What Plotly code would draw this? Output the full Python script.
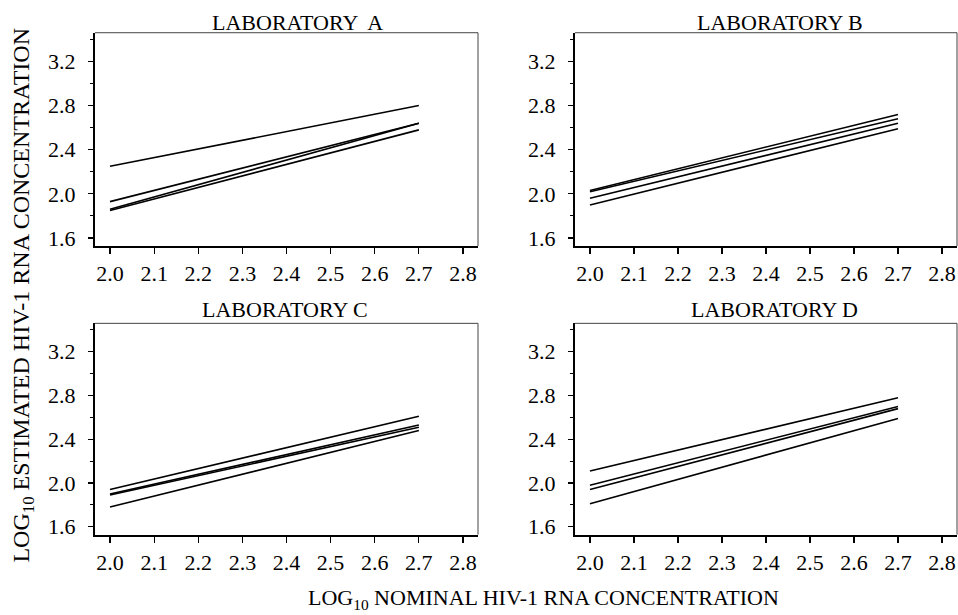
import plotly.graph_objects as go

# Nominal concentration endpoints (log10)
x_nominal = [2.0, 2.7]

# Estimated log10 concentration at x=2.0 and x=2.7 for each regression line
lab_a_start = [2.25, 1.93, 1.86, 1.85]
lab_a_end = [2.80, 2.64, 2.64, 2.58]
lab_b_start = [2.03, 2.02, 1.96, 1.90]
lab_b_end = [2.72, 2.68, 2.64, 2.59]
lab_c_start = [1.94, 1.90, 1.89, 1.78]
lab_c_end = [2.61, 2.53, 2.51, 2.48]
lab_d_start = [2.11, 1.98, 1.94, 1.81]
lab_d_end = [2.78, 2.70, 2.68, 2.59]

panel_titles = ["LABORATORY  A", "LABORATORY B", "LABORATORY C", "LABORATORY D"]
x_tick_vals = [2.0, 2.1, 2.2, 2.3, 2.4, 2.5, 2.6, 2.7, 2.8]
y_tick_vals = [1.6, 2.0, 2.4, 2.8, 3.2]
y_minor_vals = [1.8, 2.2, 2.6, 3.0, 3.4]

W, H = 958, 615
FONT = "Liberation Serif"


def px_x(p):
    return p / W


def px_y(p):
    return 1 - p / H


panels = [
    (lab_a_start, lab_a_end, (95, 478), (33, 248), 297, 37),
    (lab_b_start, lab_b_end, (575, 957), (33, 248), 780, 37),
    (lab_c_start, lab_c_end, (95, 478), (326, 539), 285, 327),
    (lab_d_start, lab_d_end, (575, 957), (326, 539), 774, 327),
]

fig = go.Figure()
shapes = []
annotations = []
layout_axes = {}

for i, (starts, ends, (px0, px1), (py0, py1), tx, ty) in enumerate(panels):
    n = i + 1
    xa = "x" if n == 1 else f"x{n}"
    ya = "y" if n == 1 else f"y{n}"
    for s, e in zip(starts, ends):
        fig.add_trace(go.Scatter(
            x=x_nominal, y=[s, e], mode="lines",
            line=dict(color="black", width=1.6),
            xaxis=xa, yaxis=ya, showlegend=False, hoverinfo="skip"))
    xkey = "xaxis" if n == 1 else f"xaxis{n}"
    ykey = "yaxis" if n == 1 else f"yaxis{n}"
    layout_axes[xkey] = dict(
        domain=[px_x(px0), min(px_x(px1), 1.0)], anchor=ya, range=[1.966, 2.834],
        tickvals=x_tick_vals, ticktext=[f"{v:.1f}" for v in x_tick_vals],
        ticks="outside", ticklen=6, tickwidth=1.2, tickcolor="black",
        showline=True, linecolor="black", linewidth=2,
        showgrid=False, zeroline=False,
        tickfont=dict(family=FONT, size=22, color="black"),
        ticklabelstandoff=1,
    )
    layout_axes[ykey] = dict(
        domain=[px_y(py1), px_y(py0)], anchor=xa, range=[1.528, 3.46],
        tickvals=y_tick_vals, ticktext=[f"{v:.1f}" for v in y_tick_vals],
        ticks="outside", ticklen=5, tickwidth=1.2, tickcolor="black",
        minor=dict(tickvals=y_minor_vals, ticks="outside",
                   ticklen=3, tickwidth=1, tickcolor="black"),
        showline=True, linecolor="black", linewidth=2,
        showgrid=False, zeroline=False,
        tickfont=dict(family=FONT, size=22, color="black"),
        ticklabelstandoff=8,
    )
    # thin top and right frame
    shapes.append(dict(type="line", xref=f"{xa} domain", yref=f"{ya} domain",
                       x0=0, x1=1, y0=1, y1=1, line=dict(color="#444", width=1)))
    shapes.append(dict(type="line", xref=f"{xa} domain", yref=f"{ya} domain",
                       x0=1, x1=1, y0=0, y1=1, line=dict(color="#444", width=1)))
    annotations.append(dict(
        text=panel_titles[i], xref="paper", yref="paper",
        x=px_x(tx), y=px_y(ty),
        xanchor="center", yanchor="bottom", showarrow=False,
        font=dict(family=FONT, size=22, color="black")))

annotations.append(dict(
    text="LOG<sub>10</sub> ESTIMATED HIV-1 RNA CONCENTRATION",
    xref="paper", yref="paper", x=px_x(23), y=px_y(298),
    xanchor="center", yanchor="middle", textangle=-90, showarrow=False,
    font=dict(family=FONT, size=24, color="black")))
annotations.append(dict(
    text="LOG<sub>10</sub> NOMINAL HIV-1 RNA CONCENTRATION",
    xref="paper", yref="paper", x=px_x(543), y=px_y(604),
    xanchor="center", yanchor="middle", showarrow=False,
    font=dict(family=FONT, size=22, color="black")))

fig.update_layout(
    width=W, height=H, margin=dict(l=0, r=0, t=0, b=0),
    paper_bgcolor="white", plot_bgcolor="white",
    shapes=shapes, annotations=annotations, **layout_axes)

fig.write_html(
    "out.html",
    config={"displayModeBar": False, "staticPlot": True},
    post_script="document.body.style.margin='0';"
                "document.body.style.overflow='hidden';"
                "document.documentElement.style.overflow='hidden';",
)
